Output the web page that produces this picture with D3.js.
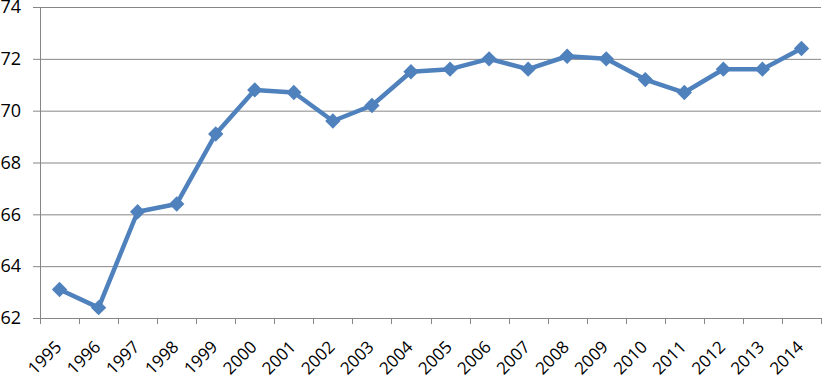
<!DOCTYPE html>
<html>
<head>
<meta charset="utf-8">
<script src="https://cdn.jsdelivr.net/npm/d3@7"></script>
<style>
  body { margin: 0; background: #fff; }
  svg { display: block; }
  text { font-family: "Open Sans", "Liberation Sans", sans-serif; fill: #000; }
</style>
</head>
<body>
<div id="chart"></div>
<script>
// chart data
const years = ["1995","1996","1997","1998","1999","2000","2001","2002","2003","2004",
               "2005","2006","2007","2008","2009","2010","2011","2012","2013","2014"];
const values = [63.1, 62.4, 66.1, 66.4, 69.1, 70.8, 70.7, 69.6, 70.2, 71.5,
                71.6, 72.0, 71.6, 72.1, 72.0, 71.2, 70.7, 71.6, 71.6, 72.4];
const yTicks = [62, 64, 66, 68, 70, 72, 74];

const width = 823, height = 380;
const margin = { top: 7, right: 2, bottom: 62, left: 40 };

const svg = d3.select("#chart").append("svg")
    .attr("width", width)
    .attr("height", height);

const x = d3.scaleBand()
    .domain(years)
    .range([margin.left, width - margin.right]);

const y = d3.scaleLinear()
    .domain([62, 74])
    .range([height - margin.bottom, margin.top]);

const gridColor = "#868686";

// y axis (outer ticks + labels)
const yAxis = svg.append("g")
    .attr("transform", `translate(${margin.left},0)`)
    .call(d3.axisLeft(y).tickValues(yTicks).tickSize(7).tickPadding(12).tickFormat(d3.format("d")));
yAxis.select(".domain").attr("stroke", gridColor);
yAxis.selectAll(".tick line").attr("stroke", gridColor);
yAxis.selectAll(".tick text").attr("font-size", "18px").attr("fill", "#000");

// horizontal gridlines
svg.append("g")
  .selectAll("line")
  .data(yTicks.slice(1))
  .join("line")
    .attr("x1", margin.left)
    .attr("x2", width - margin.right)
    .attr("y1", d => y(d) + 0.5)
    .attr("y2", d => y(d) + 0.5)
    .attr("stroke", gridColor)
    .attr("stroke-width", 1);

// x axis with ticks at band boundaries
const boundaries = years.map(d => x(d)).concat([x(years[years.length - 1]) + x.bandwidth()]);
const xg = svg.append("g")
    .attr("transform", `translate(0,${y(62)})`);
xg.append("line")
    .attr("x1", margin.left).attr("x2", width - margin.right)
    .attr("y1", 0.5).attr("y2", 0.5)
    .attr("stroke", gridColor);
xg.selectAll(".tk")
  .data(boundaries)
  .join("line")
    .attr("class", "tk")
    .attr("x1", d => Math.round(d) + 0.5).attr("x2", d => Math.round(d) + 0.5)
    .attr("y1", 0).attr("y2", 6)
    .attr("stroke", gridColor);
xg.selectAll("text")
  .data(years)
  .join("text")
    .attr("font-size", "17px")
    .attr("text-anchor", "end")
    .attr("transform", d => `translate(${x(d) + x.bandwidth() / 2 + 3},${30}) rotate(-45)`)
    .text(d => d);

// series line
const line = d3.line()
    .x((d, i) => x(years[i]) + x.bandwidth() / 2)
    .y(d => y(d));

svg.append("path")
    .datum(values)
    .attr("fill", "none")
    .attr("stroke", "#4F81BD")
    .attr("stroke-width", 4.5)
    .attr("stroke-linejoin", "round")
    .attr("d", line);

// diamond markers
const diamond = d3.symbol().type(d3.symbolDiamond2).size(150);
svg.append("g")
  .selectAll("path")
  .data(values)
  .join("path")
    .attr("d", diamond)
    .attr("transform", (d, i) => `translate(${x(years[i]) + x.bandwidth() / 2},${y(d)})`)
    .attr("fill", "#4F81BD");
</script>
</body>
</html>
